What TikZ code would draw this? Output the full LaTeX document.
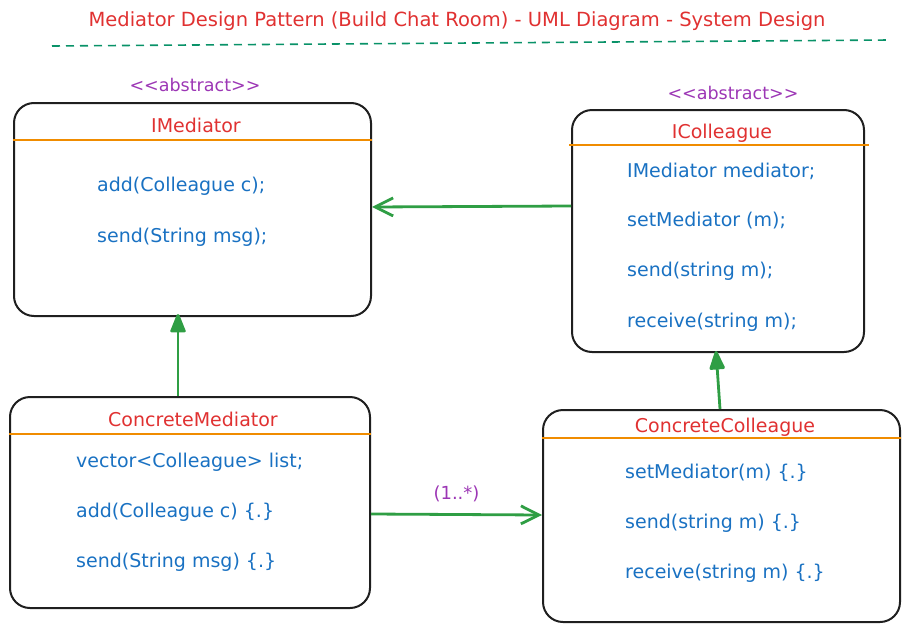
\documentclass[tikz,border=0pt]{standalone}
\usepackage{fontspec}
\setmainfont{DejaVu Sans}
\usetikzlibrary{arrows.meta}
\definecolor{hdred}{HTML}{E03131}
\definecolor{mblue}{HTML}{1971C2}
\definecolor{stpurple}{HTML}{9C36B5}
\definecolor{divorange}{HTML}{F08C00}
\definecolor{lnkgreen}{HTML}{2F9E44}
\definecolor{dashgreen}{HTML}{099268}
\tikzset{
  classbox/.style 2 args={draw=black!88, line width=2pt, rounded corners=20pt,
    minimum width=#1pt, minimum height=#2pt, inner sep=0pt},
  divider/.style={draw=divorange, line width=1.5pt},
  clsname/.style={text=hdred, font=\fontsize{19}{22}\selectfont},
  member/.style={text=mblue, anchor=west, inner sep=0pt, font=\fontsize{19}{22}\selectfont},
  stereo/.style={text=stpurple, font=\fontsize{17.5}{21}\selectfont},
  inherit/.style={draw=lnkgreen, line width=2.8pt, -{Triangle[length=21pt,width=16pt,round]}},
  assoc/.style={draw=lnkgreen, line width=2.8pt, -{Straight Barb[length=18pt,width=18pt]}}
}
\begin{document}
\begin{tikzpicture}[x=1pt,y=-1pt]
    \useasboundingbox (0,0) rectangle (910,632);
    \node[text=hdred, font=\fontsize{19.5}{23}\selectfont] (heading) at (457,21)
        {Mediator Design Pattern (Build Chat Room) - UML Diagram - System Design};
    \draw[dashgreen, line width=1.6pt, dash pattern=on 8pt off 6pt] (52,46) -- (890,40);
    % boxes
    \node[classbox={357}{213}] (im) at (192.5,209.5) {};
    \node[classbox={292}{242}] (ic) at (718,231) {};
    \node[classbox={360}{211}] (cm) at (190,502.5) {};
    \node[classbox={357}{212}] (cc) at (721.5,516) {};
    \draw[divider] (im.west |- 0,140) -- (im.east |- 0,140);
    \draw[divider] ([xshift=-2pt]ic.west |- 0,145) -- ([xshift=4pt]ic.east |- 0,145);
    \draw[divider] (cm.west |- 0,434) -- (cm.east |- 0,434);
    \draw[divider] (cc.west |- 0,438) -- (cc.east |- 0,438);
    % stereotypes and names
    \node[stereo] (imstereo) at (195,85) {<{}<abstract>{}>};
    \node[stereo] (icstereo) at (733,93) {<{}<abstract>{}>};
    \node[clsname] (imname) at (196,125) {IMediator};
    \node[clsname] (icname) at (722,133) {IColleague};
    \node[clsname] (cmname) at (193,419) {ConcreteMediator};
    \node[clsname] (ccname) at (725,427) {ConcreteColleague};
    % members
    \node[member] (im1) at (97,186) {add(Colleague c);};
    \node[member] (im2) at (97,237) {send(String msg);};
    \node[member] (ic1) at (627,171) {IMediator mediator;};
    \node[member] (ic2) at (627,221) {setMediator (m);};
    \node[member] (ic3) at (627,271) {send(string m);};
    \node[member] (ic4) at (627,322) {receive(string m);};
    \node[member] (cm1) at (76,462) {vector<Colleague> list;};
    \node[member] (cm2) at (76,512) {add(Colleague c) \{.\}};
    \node[member] (cm3) at (76,562) {send(String msg) \{.\}};
    \node[member] (cc1) at (625,473) {setMediator(m) \{.\}};
    \node[member] (cc2) at (625,523) {send(string m) \{.\}};
    \node[member] (cc3) at (625,573) {receive(string m) \{.\}};
    % connectors
    \draw[assoc] (ic.west |- 0,206) -- (im.east |- 0,207);
    \draw[inherit] (cm.north -| 178,0) -- ([yshift=3pt]im.south -| 178,0);
    \draw[inherit] (cc.north -| 720,0) -- ([yshift=2pt]ic.south -| 716,0);
    \draw[assoc] (cm.east |- 0,514) -- node[stereo, font=\fontsize{18}{21}\selectfont, above=8pt] (mult) {(1..*)} (cc.west |- 0,515);
\end{tikzpicture}
\end{document}
